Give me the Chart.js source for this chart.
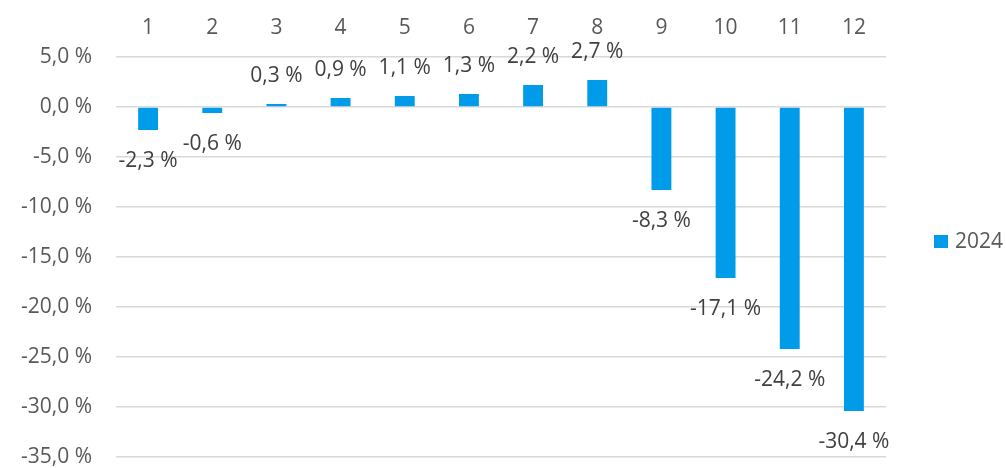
<!DOCTYPE html>
<html>
<head>
<meta charset="utf-8">
<script src="https://cdn.jsdelivr.net/npm/chart.js@4"></script>
<style>
    html, body { margin: 0; padding: 0; background: #ffffff; }
    #wrap { width: 1006px; height: 468px; position: relative; }
</style>
</head>
<body>
<div id="wrap"><canvas id="monthChart"></canvas></div>
<script>
    // Chart data
    const months = ['1', '2', '3', '4', '5', '6', '7', '8', '9', '10', '11', '12'];
    const values2024 = [-2.3, -0.6, 0.3, 0.9, 1.1, 1.3, 2.2, 2.7, -8.3, -17.1, -24.2, -30.4];
    const seriesLabel = '2024';
    const yMin = -35;
    const yMax = 5;
    const yStep = 5;

    const barColor = '#009CEA';
    const fontFamily = '"Open Sans", "Noto Sans", sans-serif';

    function formatPct(v) {
        return v.toFixed(1).replace('.', ',') + ' %';
    }

    /**
     * Value labels outside the end of each bar
     */
    const valueLabels = {
        id: 'valueLabels',
        afterDatasetsDraw(chart) {
            const ctx = chart.ctx;
            ctx.save();
            ctx.font = '21px ' + fontFamily;
            ctx.fillStyle = '#404040';
            ctx.textAlign = 'center';
            ctx.textBaseline = 'middle';
            chart.data.datasets.forEach((ds, di) => {
                chart.getDatasetMeta(di).data.forEach((bar, i) => {
                    const v = ds.data[i];
                    const y = v < 0 ? bar.y + 31 : bar.y - 28;
                    ctx.fillText(formatPct(v), bar.x, y);
                });
            });
            ctx.restore();
        }
    };

    /**
     * Simple legend on the right side
     */
    const sideLegend = {
        id: 'sideLegend',
        afterDraw(chart) {
            const ctx = chart.ctx;
            const ds = chart.data.datasets[0];
            ctx.save();
            ctx.fillStyle = ds.backgroundColor;
            ctx.fillRect(934, 235, 14, 13);
            ctx.font = '21px ' + fontFamily;
            ctx.fillStyle = '#595959';
            ctx.textAlign = 'left';
            ctx.textBaseline = 'middle';
            ctx.fillText(ds.label, 955, 242);
            ctx.restore();
        }
    };

    new Chart(document.getElementById('monthChart'), {
        type: 'bar',
        data: {
            labels: months,
            datasets: [{
                label: seriesLabel,
                data: values2024,
                backgroundColor: barColor,
                borderWidth: 0,
                barPercentage: 0.31,
                categoryPercentage: 1.0
            }]
        },
        options: {
            responsive: true,
            maintainAspectRatio: false,
            animation: false,
            layout: {
                padding: { left: 0, right: 120, top: 0, bottom: 11 }
            },
            plugins: {
                legend: { display: false },
                tooltip: { enabled: false }
            },
            scales: {
                x: {
                    position: 'top',
                    grid: { display: false },
                    border: { display: false },
                    ticks: {
                        padding: 8,
                        color: '#595959',
                        font: { family: fontFamily, size: 21 }
                    },
                    afterFit: function(scale) { scale.height = 57; }
                },
                y: {
                    min: yMin,
                    max: yMax,
                    border: { display: false },
                    grid: {
                        color: '#d9d9d9',
                        lineWidth: 1.5,
                        drawTicks: false
                    },
                    ticks: {
                        stepSize: yStep,
                        padding: 24,
                        color: '#595959',
                        font: { family: fontFamily, size: 21 },
                        callback: function(value) { return formatPct(value); }
                    },
                    afterFit: function(scale) {
                        scale.width = 116;
                        // keep the tick padding from pushing the plot bottom up
                        scale.paddingTop = 0;
                        scale.paddingBottom = 0;
                    }
                }
            }
        },
        plugins: [valueLabels, sideLegend]
    });
</script>
</body>
</html>
